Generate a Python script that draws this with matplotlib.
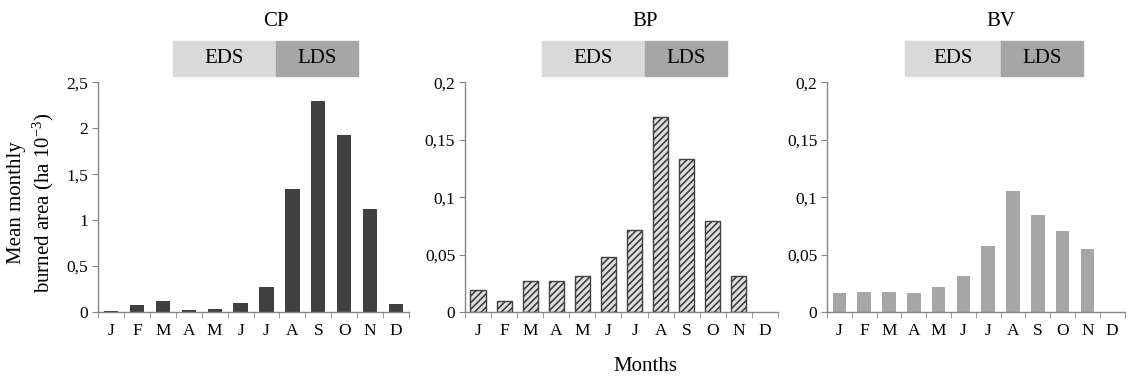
import matplotlib
matplotlib.use("Agg")
import matplotlib.pyplot as plt
from matplotlib.ticker import FuncFormatter
from matplotlib.patches import Rectangle

plt.rcParams['font.family'] = ['Liberation Serif', 'DejaVu Serif']
plt.rcParams['mathtext.fontset'] = 'custom'
plt.rcParams['mathtext.rm'] = 'Liberation Serif'
plt.rcParams['mathtext.default'] = 'regular'
plt.rcParams['hatch.linewidth'] = 1.2
plt.rcParams['hatch.color'] = '#383838'

months = ["J", "F", "M", "A", "M", "J", "J", "A", "S", "O", "N", "D"]
cp = [0.01, 0.076, 0.116, 0.022, 0.03, 0.094, 0.27, 1.335, 2.294, 1.928, 1.12, 0.085]
bp = [0.0194, 0.0095, 0.0272, 0.0272, 0.0318, 0.048, 0.0711, 0.1694, 0.1332, 0.0789, 0.0312, 0.0]
bv = [0.0165, 0.0173, 0.0173, 0.017, 0.0214, 0.0318, 0.0575, 0.1052, 0.0841, 0.0708, 0.0546, 0.0]
titles = ["CP", "BP", "BV"]
ymax = [2.5, 0.2, 0.2]
ystep = [0.5, 0.05, 0.05]

axis_grey = "#868686"

fig = plt.figure(figsize=(11.28, 3.76), dpi=100)

# axes boxes in figure fraction (left, right)
spans = [(0.0869, 0.3626), (0.4122, 0.6897), (0.7332, 0.997)]
bottom, top = 0.170, 0.781
# season boxes: (eds start, divider, lds end) in figure pixels
boxes = [(173, 276, 358), (542, 645, 727), (905, 1001, 1083)]

def fmt(v, pos):
    s = ("%.2f" % v).rstrip("0").rstrip(".")
    return s.replace(".", ",")

data = [cp, bp, bv]
for i in range(3):
    l, r = spans[i]
    ax = fig.add_axes([l, bottom, r - l, top - bottom])
    x = list(range(12))
    if i == 0:
        ax.bar(x, data[i], width=0.55, color="#404040")
    elif i == 1:
        # no outline on empty months
        lw = [1.0 if v > 0 else 0 for v in data[i]]
        ax.bar(x, data[i], width=0.58, color="#e0e0e0", edgecolor="#404040",
               hatch="/////", linewidth=lw)
    else:
        ax.bar(x, data[i], width=0.55, color="#a6a6a6")
    ax.set_xlim(-0.5, 11.5)
    ax.set_ylim(0, ymax[i])
    n = int(round(ymax[i] / ystep[i]))
    ax.set_yticks([k * ystep[i] for k in range(n + 1)])
    ax.yaxis.set_major_formatter(FuncFormatter(fmt))
    ax.set_xticks(x)
    ax.set_xticklabels(months)
    ax.set_xticks([k - 0.5 for k in range(13)], minor=True)
    ax.tick_params(axis="x", which="major", length=0, pad=8, labelsize=12.5)
    ax.tick_params(axis="x", which="minor", length=4, color=axis_grey, direction="out")
    ax.tick_params(axis="y", length=4, color=axis_grey, labelsize=12.5, pad=3)
    for s in ["top", "right"]:
        ax.spines[s].set_visible(False)
    for s in ["left", "bottom"]:
        ax.spines[s].set_color(axis_grey)
        ax.spines[s].set_linewidth(1.0)

    e0, d, e1 = boxes[i]
    W, H = 1128.0, 376.0
    fig.patches.append(Rectangle((e0 / W, 1 - 76 / H), (d - e0) / W, 35 / H,
                                 transform=fig.transFigure, color="#d9d9d9", zorder=0))
    fig.patches.append(Rectangle((d / W, 1 - 76 / H), (e1 - d) / W, 35 / H,
                                 transform=fig.transFigure, color="#a6a6a6", zorder=0))
    fig.text((e0 + d) / 2 / W, 1 - 58.5 / H, "EDS", ha="center", va="center", fontsize=15)
    fig.text((d + e1) / 2 / W, 1 - 58.5 / H, "LDS", ha="center", va="center", fontsize=15)
    fig.text(d / W, 1 - 22 / H, titles[i], ha="center", va="center", fontsize=15)

fig.text(0.028, 0.46, "Mean monthly\nburned area (ha 10$^{-3}$)", rotation=90,
         ha="center", va="center", fontsize=15, linespacing=1.25)
fig.text(0.5718, 0.024, "Months", ha="center", va="center", fontsize=15)

fig.savefig("out.png", dpi=100)
